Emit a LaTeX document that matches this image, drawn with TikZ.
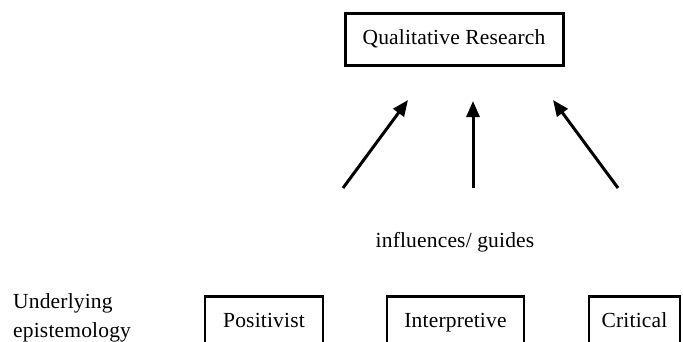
\documentclass[tikz,border=0pt]{standalone}
\usepackage{fontspec}
\setmainfont{Liberation Serif}[LetterSpace=0.8]
\usetikzlibrary{arrows.meta}
\begin{document}
\begin{tikzpicture}[x=1pt,y=-1pt,
  every node/.style={font=\fontsize{21.5}{26}\selectfont},
  topbox/.style={draw, line width=3pt, minimum width=218pt, minimum height=52pt, inner sep=0pt},
  lowbox/.style={draw, line width=2.5pt, minimum height=100pt, inner sep=0pt, anchor=north},
  influence/.style={line width=3pt, -{Triangle[length=16pt,width=13pt]}}
]
  \clip (0,0) rectangle (683,341);
  \fill[white] (0,0) rectangle (683,341);

  % top box
  \node[topbox] (qr) at (454,39) {Qualitative Research};

  % arrow ends
  \coordinate (l0) at (343,188);
  \coordinate (l1) at (408,100);
  \coordinate (m0) at (473,188);
  \coordinate (m1) at (473,101);
  \coordinate (r0) at (618,188);
  \coordinate (r1) at (553,100);
  \draw[influence] (l0) -- (l1);
  \draw[influence] (m0) -- (m1);
  \draw[influence] (r0) -- (r1);

  % label under the arrows
  \node[anchor=base] (lbl) at (455,247) {influences/ guides};

  % side label
  \node[anchor=base west, inner sep=0pt] (ul1) at (13,308) {Underlying};
  \node[anchor=base west, inner sep=0pt] (ul2) at (13,337) {epistemology};

  % epistemology boxes, open at the lower edge
  \node[lowbox, minimum width=118pt] (pos) at (264,295) {};
  \node[anchor=base] (post) at (264,327) {Positivist};
  \node[lowbox, minimum width=137pt] (int) at (455.5,295) {};
  \node[anchor=base] (intt) at (455.5,327) {Interpretive};
  \node[lowbox, minimum width=91pt] (cri) at (634.5,295) {};
  \node[anchor=base] (crit) at (634.5,327) {Critical};
\end{tikzpicture}
\end{document}
